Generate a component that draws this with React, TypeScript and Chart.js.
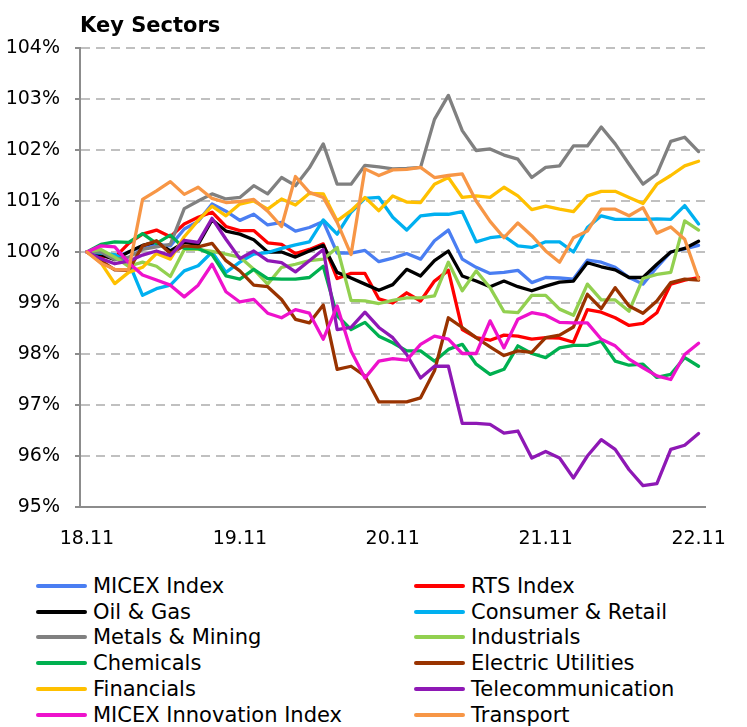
import React, { useEffect, useRef } from 'react';
import { Chart, registerables } from 'chart.js';

Chart.register(...registerables);

// ---- tick labels / categories ----
const dayLabels = ['18.11', '19.11', '20.11', '21.11', '22.11'];
const pointsPerDay = 11;
const pointCount = 45;
const categories = Array.from({ length: pointCount }, (_, i) =>
  i % pointsPerDay === 0 ? dayLabels[i / pointsPerDay] : ''
);
const yMin = 95;
const yMax = 104;

// ---- series values (% of 18.11 level) ----
const micex = [
  100.0, 99.95, 99.9, 100.0, 100.1, 100.15, 100.12, 100.45, 100.6, 100.94, 100.8,
  100.62, 100.74, 100.53, 100.58, 100.41, 100.48, 100.6, 99.98, 99.98, 100.03, 99.81,
  99.88, 99.97, 99.86, 100.22, 100.43, 99.86, 99.7, 99.58, 99.6, 99.64, 99.4,
  99.5, 99.49, 99.47, 99.84, 99.8, 99.7, 99.5, 99.37, 99.7, 100.0, 100.06,
  100.13,
];
const rts = [
  100.0, 99.92, 99.89, 100.17, 100.35, 100.43, 100.3, 100.55, 100.68, 100.78, 100.5,
  100.42, 100.42, 100.18, 100.15, 99.97, 100.05, 100.16, 99.48, 99.58, 99.58, 99.08,
  99.0, 99.2, 99.04, 99.43, 99.64, 98.48, 98.32, 98.27, 98.37, 98.35, 98.29,
  98.32, 98.31, 98.23, 98.87, 98.82, 98.71, 98.56, 98.6, 98.81, 99.37, 99.45,
  99.5,
];
const oilGas = [
  100.0, 99.95, 99.85, 100.0, 100.13, 100.2, 100.02, 100.19, 100.15, 100.63, 100.41,
  100.35, 100.24, 100.0, 100.0, 99.9, 100.02, 100.13, 99.6, 99.49, 99.37, 99.25,
  99.36, 99.66, 99.53, 99.83, 100.02, 99.53, 99.43, 99.32, 99.43, 99.32, 99.24,
  99.33, 99.41, 99.43, 99.79, 99.71, 99.65, 99.5, 99.5, 99.76, 100.0, 100.07,
  100.21,
];
const consumer = [
  100.0, 99.98, 99.95, 99.8, 99.15, 99.28, 99.35, 99.63, 99.73, 100.0, 99.6,
  99.8, 99.96, 99.99, 100.07, 100.14, 100.2, 100.63, 100.35, 100.78, 101.05, 101.07,
  100.68, 100.43, 100.71, 100.74, 100.74, 100.79, 100.2, 100.28, 100.31, 100.12, 100.09,
  100.2, 100.2, 100.0, 100.48, 100.71, 100.64, 100.64, 100.64, 100.65, 100.64, 100.91,
  100.55,
];
const metals = [
  100.0, 100.0, 99.85, 99.9, 100.05, 100.1, 100.15, 100.85, 101.0, 101.14, 101.04,
  101.07, 101.3, 101.14, 101.46, 101.3, 101.65, 102.12, 101.33, 101.33, 101.7, 101.67,
  101.63, 101.64, 101.66, 102.6, 103.07, 102.38, 101.99, 102.02, 101.9, 101.82, 101.46,
  101.66, 101.69, 102.08, 102.08, 102.45, 102.12, 101.72, 101.33, 101.53, 102.17, 102.25,
  101.97,
];
const industrials = [
  100.0, 100.05, 99.9, 99.72, 99.8, 99.72, 99.52, 100.05, 100.05, 100.01, 99.96,
  99.9, 99.66, 99.37, 99.7, 99.76, 99.83, 99.86, 100.09, 99.05, 99.04, 98.99,
  99.05, 99.1, 99.1, 99.14, 99.8, 99.24, 99.63, 99.3, 98.83, 98.81, 99.15,
  99.15, 98.88, 98.76, 99.37, 99.06, 99.06, 98.84, 99.48, 99.56, 99.6, 100.61,
  100.43,
];
const chemicals = [
  100.0, 100.15, 100.2, 100.19, 100.36, 100.17, 100.33, 100.07, 100.07, 99.95, 99.53,
  99.47, 99.66, 99.48, 99.47, 99.47, 99.5, 99.72, 98.75, 98.48, 98.62, 98.35,
  98.22, 98.06, 98.06, 97.86, 98.09, 98.19, 97.8, 97.6, 97.7, 98.16, 98.01,
  97.93, 98.12, 98.17, 98.17, 98.25, 97.86, 97.78, 97.8, 97.54, 97.6, 97.93,
  97.76,
];
const electric = [
  100.0, 99.83, 99.65, 99.64, 100.12, 100.22, 99.97, 100.12, 100.1, 100.17, 99.83,
  99.63, 99.35, 99.32, 99.07, 98.68, 98.61, 98.96, 97.7, 97.76, 97.57, 97.06,
  97.06, 97.06, 97.14, 97.67, 98.71, 98.52, 98.32, 98.14, 97.97, 98.06, 98.03,
  98.32, 98.37, 98.53, 99.17, 98.89, 99.3, 98.94, 98.8, 99.04, 99.4, 99.47,
  99.45,
];
const financials = [
  100.0, 99.79, 99.38, 99.6, 99.7, 99.97, 99.86, 100.3, 100.62, 100.9, 100.71,
  100.94, 101.0, 100.84, 101.04, 100.92, 101.15, 101.14, 100.61, 100.81, 101.07, 100.81,
  101.1, 100.98, 100.97, 101.33, 101.46, 101.07, 101.1, 101.07, 101.27, 101.1, 100.83,
  100.9, 100.84, 100.79, 101.1, 101.19, 101.19, 101.07, 100.95, 101.33, 101.5, 101.69,
  101.78,
];
const telecom = [
  100.0, 99.87, 99.77, 99.82, 99.94, 100.02, 99.93, 100.23, 100.19, 100.66, 100.25,
  99.87, 100.02, 99.83, 99.79, 99.61, 99.83, 100.05, 98.48, 98.52, 98.82, 98.52,
  98.32, 97.99, 97.53, 97.76, 97.76, 96.64, 96.64, 96.62, 96.45, 96.49, 95.96,
  96.09, 95.96, 95.57, 96.0, 96.32, 96.13, 95.73, 95.42, 95.46, 96.13, 96.21,
  96.44,
];
const innovation = [
  100.0, 100.12, 100.1, 99.79, 99.55, 99.45, 99.35, 99.12, 99.35, 99.76, 99.22,
  99.02, 99.07, 98.8, 98.71, 98.87, 98.8, 98.29, 98.94, 98.06, 97.53, 97.86,
  97.91, 97.88, 98.19, 98.35, 98.29, 98.01, 98.01, 98.65, 98.12, 98.68, 98.81,
  98.76, 98.62, 98.61, 98.61, 98.29, 98.16, 97.9, 97.73, 97.57, 97.5, 97.99,
  98.21,
];
const transport = [
  100.0, 99.78, 99.66, 99.65, 101.03, 101.2, 101.38, 101.13, 101.27, 101.05, 100.97,
  100.99, 101.03, 100.8, 100.5, 101.48, 101.17, 101.07, 100.58, 99.95, 101.63, 101.5,
  101.61, 101.62, 101.66, 101.46, 101.5, 101.53, 101.0, 100.6, 100.28, 100.57, 100.32,
  100.02, 99.8, 100.28, 100.41, 100.84, 100.84, 100.71, 100.87, 100.37, 100.49, 100.25,
  99.47,
];

const seriesNames = [
  'MICEX Index', 'RTS Index', 'Oil & Gas', 'Consumer & Retail', 'Metals & Mining', 'Industrials',
  'Chemicals', 'Electric Utilities', 'Financials', 'Telecommunication', 'MICEX Innovation Index', 'Transport',
];
const seriesColors = [
  '#4a7ef2', '#ff0000', '#000000', '#00b0f0', '#808080', '#92d050',
  '#00b050', '#993300', '#ffc000', '#8e18b5', '#ee12cc', '#f79646',
];
const seriesValues = [
  micex, rts, oilGas, consumer, metals, industrials,
  chemicals, electric, financials, telecom, innovation, transport,
];

const FONT = "'DejaVu Sans', Verdana, sans-serif";

export default function App() {
  const canvasRef = useRef<HTMLCanvasElement | null>(null);

  useEffect(() => {
    if (!canvasRef.current) return;
    const chart = new Chart(canvasRef.current, {
      type: 'line',
      data: {
        labels: categories,
        datasets: seriesValues.map((vals, i) => ({
          label: seriesNames[i],
          data: vals,
          borderColor: seriesColors[i],
          backgroundColor: seriesColors[i],
          borderWidth: 3.3,
          pointRadius: 0,
          tension: 0,
          fill: false,
          borderJoinStyle: 'round' as const,
          borderCapStyle: 'round' as const,
          order: -i,
        })),
      },
      options: {
        animation: false,
        responsive: false,
        maintainAspectRatio: false,
        devicePixelRatio: 1,
        events: [],
        layout: { padding: { top: 48, left: 0, right: 20, bottom: 0 } },
        plugins: {
          legend: { display: false },
          title: { display: false },
          tooltip: { enabled: false },
        },
        scales: {
          x: {
            type: 'category',
            offset: true,
            grid: { display: false, drawTicks: false },
            border: { display: true, color: '#8c8c8c', width: 2 },
            ticks: {
              autoSkip: false,
              maxRotation: 0,
              minRotation: 0,
              padding: 21,
              color: '#000',
              font: { family: FONT, size: 19 },
            },
            afterFit: (s: any) => {
              s.height = 53;
            },
          },
          y: {
            min: yMin,
            max: yMax,
            ticks: {
              stepSize: 1,
              padding: 15,
              color: '#000',
              font: { family: FONT, size: 19 },
              callback: (v: any) => `${v}%`,
            },
            grid: {
              color: '#c0c0c0',
              lineWidth: 2,
              tickColor: '#8c8c8c',
              tickLength: 5,
              tickWidth: 2,
              tickBorderDash: [],
            },
            border: { display: true, color: '#8c8c8c', width: 2, dash: [9, 6] },
            afterFit: (s: any) => {
              s.width = 80;
            },
          },
        },
      },
    });
    return () => chart.destroy();
  }, []);

  return (
    <div style={{ position: 'absolute', left: 0, top: 0, width: 747, height: 727, background: '#fff', overflow: 'hidden' }}>
      <canvas ref={canvasRef} width={747} height={560} style={{ display: 'block', position: 'absolute', left: 0, top: 0 }} />
      <div
        style={{
          position: 'absolute', left: 80, top: 13, fontFamily: FONT, fontWeight: 'bold',
          fontSize: 21, color: '#000', whiteSpace: 'nowrap', lineHeight: 'normal',
        }}
      >
        Key Sectors
      </div>
      {seriesNames.map((name, i) => {
        const col = i % 2;
        const row = Math.floor(i / 2);
        const left = col === 0 ? 36 : 414;
        const top = 574 + row * 25.7;
        return (
          <div key={name} style={{ position: 'absolute', left, top, height: 25, whiteSpace: 'nowrap' }}>
            <div
              style={{
                position: 'absolute', left: 0, top: 10, width: 51, height: 4,
                background: seriesColors[i], borderRadius: 2,
              }}
            />
            <div
              style={{
                position: 'absolute', left: 57, top: 0, fontFamily: FONT, fontSize: 21,
                color: '#000', lineHeight: 'normal',
              }}
            >
              {name}
            </div>
          </div>
        );
      })}
    </div>
  );
}
